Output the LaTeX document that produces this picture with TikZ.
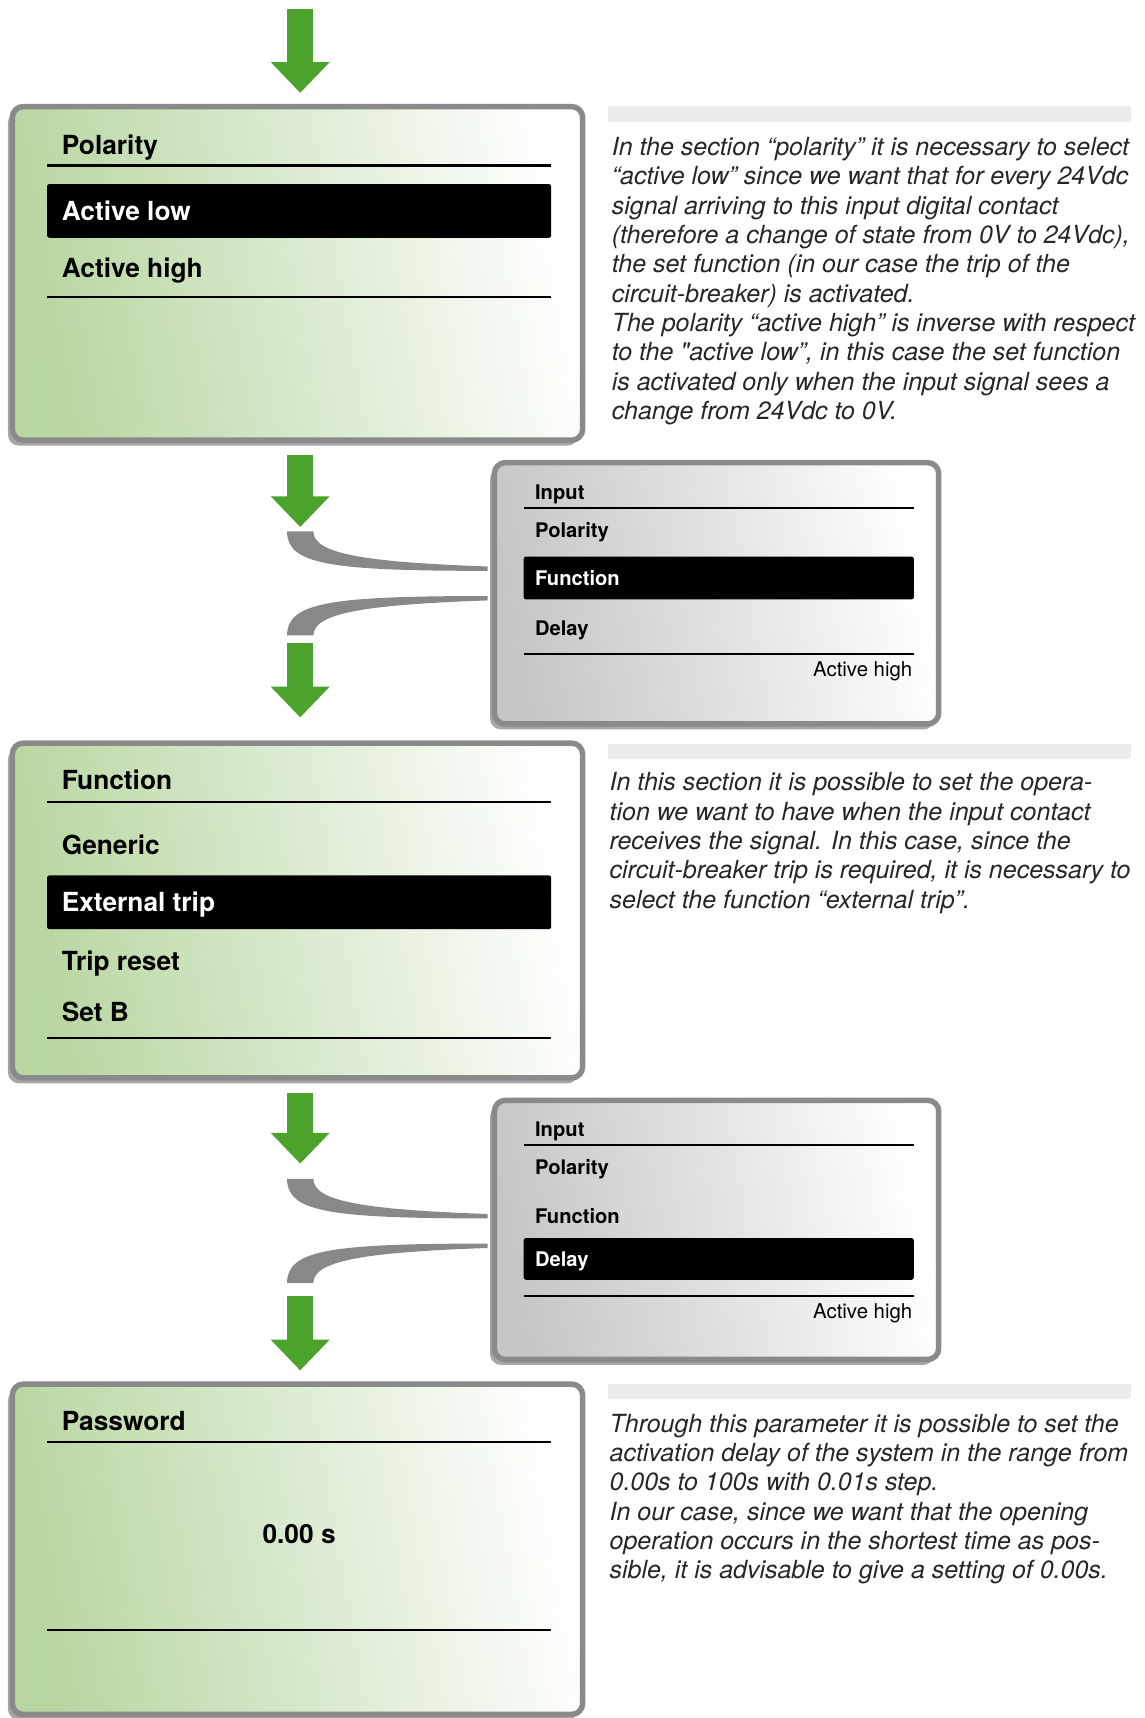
\documentclass[tikz,border=0pt]{standalone}
\usepackage{fontspec}
\setmainfont{TeX Gyre Heros}
\usetikzlibrary{arrows.meta,shadows}

\definecolor{flowgreen}{RGB}{76,163,44}
\definecolor{framegray}{RGB}{138,138,138}
\definecolor{forkgray}{RGB}{136,136,137}
\definecolor{notegray}{RGB}{235,236,235}
\definecolor{greenA}{RGB}{184,214,160}
\definecolor{greenB}{RGB}{218,234,207}
\definecolor{grayA}{RGB}{198,198,198}
\definecolor{grayB}{RGB}{226,226,226}

\tikzset{
  panel/.style={draw=framegray, line width=2.5pt, rounded corners=5pt, inner sep=0pt,
    drop shadow={shadow xshift=-2pt, shadow yshift=-2.5pt, fill=black, opacity=0.35}},
  greenpanel/.style={panel, left color=greenA, right color=white, middle color=greenB, shading angle=100},
  graypanel/.style={panel, left color=grayA, right color=white, middle color=grayB, shading angle=100},
  bigitem/.style={anchor=base west, inner sep=0pt, font=\bfseries\fontsize{12}{14}\selectfont},
  smallitem/.style={anchor=base west, inner sep=0pt, font=\bfseries\fontsize{9.2}{11}\selectfont},
  valtext/.style={anchor=base east, inner sep=0pt, font=\fontsize{9.3}{11}\selectfont},
  selbar/.style={fill=black, rounded corners=1pt},
  rule/.style={line width=1pt},
  flow/.style={draw=flowgreen, line width=12pt, -{Triangle[width=26pt,length=14pt]}},
  fork/.style={fill=forkgray},
  notebar/.style={fill=notegray},
  note/.style={anchor=base west, align=left, inner sep=0pt, text=black!85,
    font=\itshape\fontsize{11.4}{13.4}\selectfont}
}

\begin{document}
\begin{tikzpicture}[x=0.5pt,y=-0.5pt]
    \useasboundingbox (0,0) rectangle (1045,1568);

    % Polarity panel
    \node[greenpanel, minimum width=260.25pt, minimum height=152.25pt] (polbox) at (271.5,249.5) {};
    \node[bigitem] (polT) at (56,141) {Polarity};
    \draw[rule] (43,151) -- (503,151);
    \fill[selbar] (43,168) rectangle (503,217);
    \node[bigitem, text=white] (polLow) at (56,201) {Active low};
    \node[bigitem] (polHigh) at (56,253) {Active high};
    \draw[rule] (43,271) -- (503,271);

    % note (anchored on its last line)
    \fill[notebar] (555,97) rectangle (1032,111);
    \node[note] (polNote) at (558,383) {In the section “polarity” it is necessary to select\\
      “active low” since we want that for every 24Vdc\\
      signal arriving to this input digital contact\\
      (therefore a change of state from 0V to 24Vdc),\\
      the set function (in our case the trip of the\\
      circuit-breaker) is activated.\\
      The polarity “active high” is inverse with respect\\
      to the \textquotedbl active low”, in this case the set function\\
      is activated only when the input signal sees a\\
      change from 24Vdc to 0V.};

    % first menu
    \node[graypanel, minimum width=202.75pt, minimum height=119.25pt] (menuA) at (654,541.5) {};
    \node[smallitem] (menuAin) at (488,456) {Input};
    \draw[rule] (478,464) -- (834,464);
    \node[smallitem] (menuApol) at (488,491) {Polarity};
    \fill[selbar] (478,508) rectangle (834,547);
    \node[smallitem, text=white] (menuAfun) at (488,534) {Function};
    \node[smallitem] (menuAdel) at (488,580) {Delay};
    \draw[rule] (478,597) -- (834,597);
    \node[valtext] (menuAval) at (833,617) {Active high};

    % Function panel
    \node[greenpanel, minimum width=260.25pt, minimum height=152.75pt] (funbox) at (271.5,831) {};
    \node[bigitem] (funT) at (56,721) {Function};
    \draw[rule] (43,732) -- (503,732);
    \node[bigitem] (funGen) at (56,780) {Generic};
    \fill[selbar] (43,799) rectangle (503,848);
    \node[bigitem, text=white] (funExt) at (56,832) {External trip};
    \node[bigitem] (funRes) at (56,886) {Trip reset};
    \node[bigitem] (funSet) at (56,932) {Set B};
    \draw[rule] (43,947) -- (503,947);

    \fill[notebar] (555,679) rectangle (1032,693);
    \node[note] (funNote) at (556,829) {In this section it is possible to set the opera-\\
      tion we want to have when the input contact\\
      receives the signal. In this case, since the\\
      circuit-breaker trip is required, it is necessary to\\
      select the function “external trip”.};

    % second menu
    \node[graypanel, minimum width=202.75pt, minimum height=118.25pt] (menuB) at (654,1122.5) {};
    \node[smallitem] (menuBin) at (488,1037) {Input};
    \draw[rule] (478,1045) -- (834,1045);
    \node[smallitem] (menuBpol) at (488,1072) {Polarity};
    \node[smallitem] (menuBfun) at (488,1117) {Function};
    \fill[selbar] (478,1130) rectangle (834,1168);
    \node[smallitem, text=white] (menuBdel) at (488,1156) {Delay};
    \draw[rule] (478,1183) -- (834,1183);
    \node[valtext] (menuBval) at (833,1203) {Active high};

    % Delay panel
    \node[greenpanel, minimum width=260.25pt, minimum height=150.75pt] (pwdbox) at (271.5,1414) {};
    \node[bigitem] (pwdT) at (56,1306) {Password};
    \draw[rule] (43,1316) -- (503,1316);
    \node[bigitem, anchor=base] (pwdVal) at (273,1409) {0.00 s};
    \draw[rule] (43,1488) -- (503,1488);

    \fill[notebar] (555,1263) rectangle (1032,1277);
    \node[note] (pwdNote) at (556,1441) {Through this parameter it is possible to set the\\
      activation delay of the system in the range from\\
      0.00s to 100s with 0.01s step.\\
      In our case, since we want that the opening\\
      operation occurs in the shortest time as pos-\\
      sible, it is advisable to give a setting of 0.00s.};

    % Flow arrows
    \coordinate (top) at (274,8);
    \draw[flow, shorten >=5pt] (top) -- (polbox.north -| top);
    \draw[flow, shorten <=5.5pt] (polbox.south -| top) -- (274,481);
    \draw[flow, shorten >=10.5pt] (274,587) -- (funbox.north -| top);
    \draw[flow, shorten <=5.5pt] (funbox.south -| top) -- (274,1062);
    \draw[flow, shorten >=5pt] (274,1183) -- (pwdbox.north -| top);

    % Forks to the menus
    \fill[fork] (262,485) .. controls (262,515) and (300,521) .. (445,521) -- (445,517)
      .. controls (330,513) and (286,505) .. (286,485) -- cycle;
    \fill[fork] (262,580) .. controls (262,550) and (300,544) .. (445,544) -- (445,548)
      .. controls (330,552) and (286,560) .. (286,580) -- cycle;
    \fill[fork] (262,1076) .. controls (262,1106) and (300,1112) .. (445,1112) -- (445,1108)
      .. controls (330,1104) and (286,1096) .. (286,1076) -- cycle;
    \fill[fork] (262,1171) .. controls (262,1141) and (300,1135) .. (445,1135) -- (445,1139)
      .. controls (330,1143) and (286,1151) .. (286,1171) -- cycle;
\end{tikzpicture}
\end{document}
